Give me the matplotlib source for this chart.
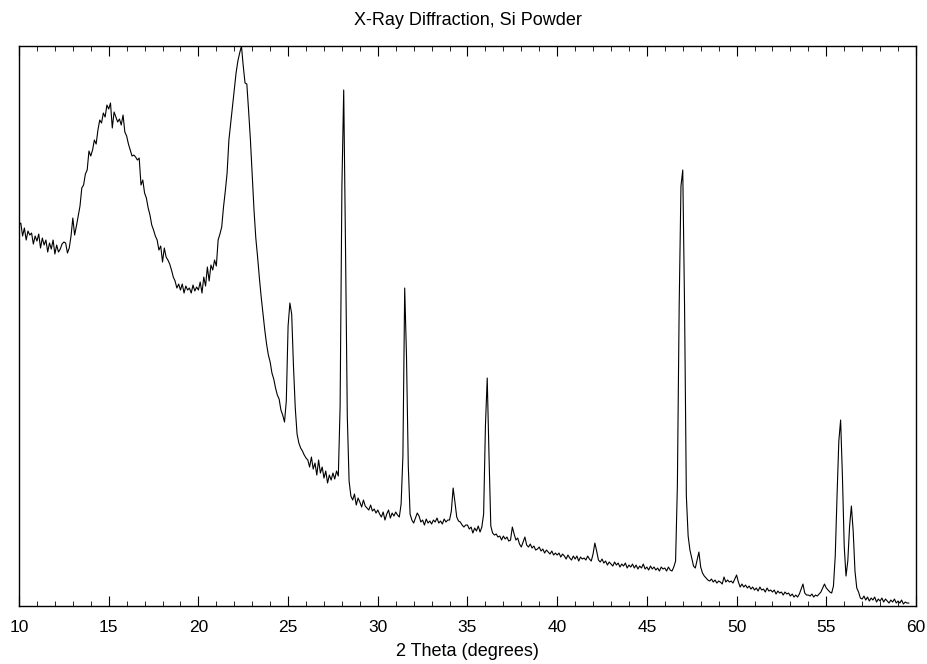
import numpy as np
import matplotlib
matplotlib.use("Agg")
import matplotlib.pyplot as plt

# Scan settings (uniform step of the diffractometer)
scan_start = 10.0
scan_step = 0.1

# Intensity (arbitrary units), one row per degree of 2 theta
intensity = [
    381, 383, 370, 378, 366, 375, 371, 373, 362, 370,   # 10
    365, 372, 358, 368, 361, 366, 354, 363, 357, 366,   # 11
    352, 361, 354, 357, 362, 364, 363, 353, 358, 370,   # 12
    388, 371, 380, 390, 400, 418, 421, 432, 436, 455,   # 13
    450, 456, 466, 462, 476, 486, 483, 493, 489, 501,   # 14
    497, 503, 478, 494, 489, 484, 487, 481, 491, 474,   # 15
    470, 462, 456, 450, 451, 449, 446, 448, 421, 426,   # 16
    413, 408, 398, 391, 381, 376, 370, 366, 356, 360,   # 17
    344, 358, 349, 346, 342, 336, 329, 325, 318, 322,   # 18
    316, 322, 313, 320, 316, 318, 313, 321, 315, 319,   # 19
    316, 324, 313, 329, 320, 339, 325, 341, 336, 346,   # 20
    340, 366, 372, 379, 399, 415, 433, 466, 483, 499,   # 21
    516, 533, 545, 553, 560, 540, 523, 522, 495, 466,   # 22
    430, 396, 368, 349, 328, 309, 292, 276, 262, 251,   # 23
    244, 233, 227, 218, 211, 207, 196, 191, 184, 205,   # 24
    280, 303, 292, 240, 198, 172, 163, 158, 155, 151,   # 25
    148, 146, 139, 149, 137, 143, 131, 146, 133, 139,   # 26
    128, 135, 123, 131, 126, 133, 127, 135, 130, 200,   # 27
    420, 516, 360, 190, 125, 110, 106, 112, 101, 108,   # 28
    104, 99, 106, 100, 98, 96, 101, 95, 97, 93,         # 29
    96, 92, 89, 94, 86, 92, 96, 88, 93, 90,             # 30
    94, 91, 89, 102, 150, 318, 250, 140, 92, 86,        # 31
    83, 88, 93, 90, 84, 86, 81, 87, 83, 85,             # 32
    82, 86, 84, 88, 83, 85, 82, 87, 84, 86,             # 33
    86, 95, 118, 104, 89, 85, 84, 81, 79, 81,           # 34
    81, 77, 79, 73, 78, 75, 80, 74, 79, 92,             # 35
    180, 228, 150, 80, 73, 71, 72, 69, 70, 66,          # 36
    70, 67, 69, 65, 66, 79, 72, 66, 68, 62,             # 37
    59, 64, 69, 61, 59, 62, 58, 60, 56, 57,             # 38
    59, 55, 57, 53, 56, 54, 52, 55, 51, 53,             # 39
    51, 53, 49, 52, 50, 47, 51, 48, 46, 50,             # 40
    47, 50, 45, 49, 47, 48, 46, 50, 47, 45,             # 41
    52, 63, 55, 46, 44, 47, 43, 45, 41, 44,             # 42
    42, 40, 44, 41, 43, 39, 42, 40, 43, 38,             # 43
    41, 39, 42, 38, 41, 37, 40, 38, 42, 37,             # 44
    39, 36, 40, 37, 39, 36, 38, 35, 39, 37,             # 45
    38, 35, 39, 36, 35, 39, 45, 120, 300, 420,          # 46
    436, 300, 110, 70, 56, 48, 40, 38, 46, 54,          # 47
    39, 33, 30, 28, 26, 25, 27, 24, 26, 23,             # 48
    25, 24, 22, 29, 24, 26, 24, 25, 23, 27,             # 49
    31, 24, 19, 22, 19, 21, 18, 20, 17, 19,             # 50
    16, 18, 15, 19, 16, 17, 14, 18, 15, 16,             # 51
    14, 16, 12, 15, 13, 14, 11, 14, 12, 13,             # 52
    10, 12, 9, 11, 9, 12, 17, 22, 13, 11,               # 53
    11, 10, 12, 9, 11, 10, 12, 14, 18, 22,              # 54
    18, 16, 14, 13, 20, 50, 110, 165, 186, 130,         # 55
    60, 30, 45, 80, 100, 75, 35, 18, 14, 8,             # 56
    7, 10, 6, 9, 5, 8, 6, 9, 4, 7,                      # 57
    5, 8, 4, 7, 5, 3, 6, 4, 7, 3,                       # 58
    5, 3, 6, 2, 4, 3, 3,                                # 59
]
two_theta = scan_start + scan_step * np.arange(len(intensity))

plt.rcParams['font.family'] = ['Liberation Sans', 'DejaVu Sans']

fig = plt.figure(figsize=(9.27, 6.64), dpi=100)
ax = fig.add_axes([0.0205, 0.0873, 0.9676, 0.8434])
ax.plot(two_theta, intensity, color='black', linewidth=0.8)

ax.set_xlim(10, 60)
ax.set_ylim(0, 560)
ax.set_xticks(np.arange(10, 61, 5))
ax.set_xticks(np.arange(10, 61, 1), minor=True)
ax.set_yticks([])
ax.tick_params(axis='x', which='both', direction='in', top=True, labelsize=12.5, pad=10)
ax.tick_params(axis='x', which='major', length=7)
ax.tick_params(axis='x', which='minor', length=3.5)
for s in ax.spines.values():
    s.set_linewidth(1.0)

ax.set_title("X-Ray Diffraction, Si Powder", fontsize=13, pad=15)
ax.set_xlabel("2 Theta (degrees)", fontsize=13, labelpad=6)

fig.savefig("out.png", dpi=100)
